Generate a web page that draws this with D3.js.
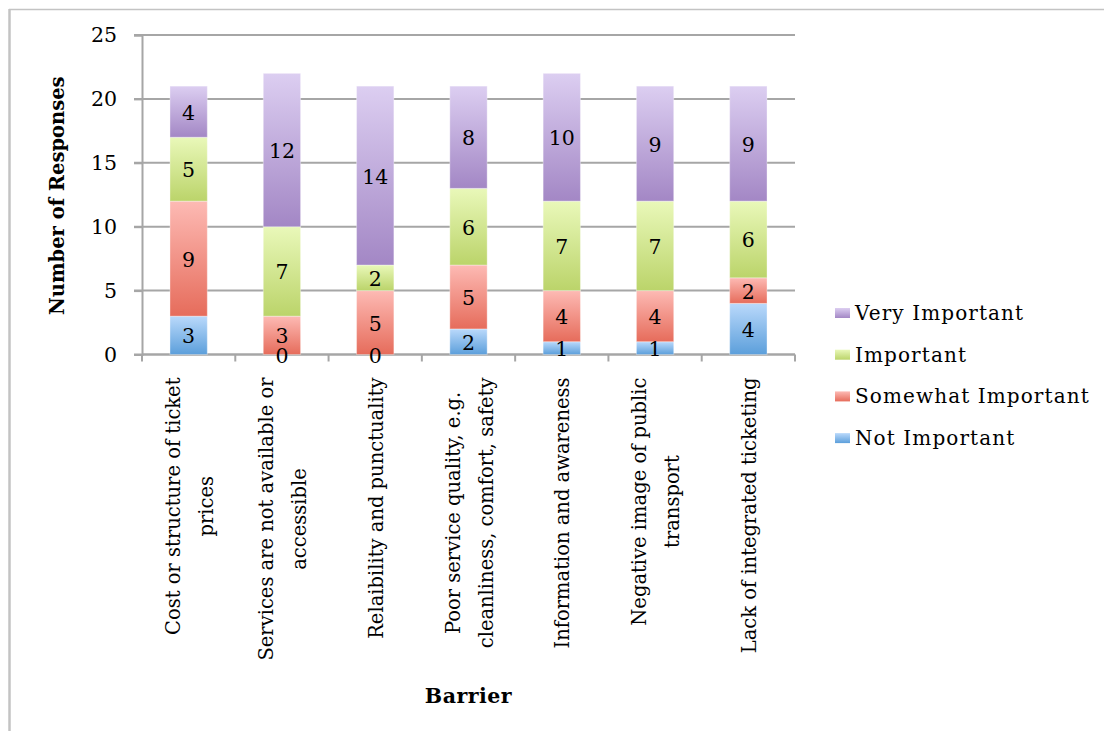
<!DOCTYPE html>
<html>
<head>
<meta charset="utf-8">
<script src="https://cdn.jsdelivr.net/npm/d3@7"></script>
<style>
  html, body { margin: 0; padding: 0; background: #fff; }
  svg { display: block; }
  text { font-family: "DejaVu Serif", "Liberation Serif", serif; fill: #000; }
</style>
</head>
<body>
<svg id="chart" width="1104" height="731"></svg>
<script>
// Survey responses per barrier, split by importance rating
const categories = [
  ["Cost or structure of ticket", "prices"],
  ["Services are not available or", "accessible"],
  ["Relaibility and punctuality"],
  ["Poor service quality, e.g.", "cleanliness, comfort, safety"],
  ["Information and awareness"],
  ["Negative image of public", "transport"],
  ["Lack of integrated ticketing"]
];
const seriesNames = ["Not Important", "Somewhat Important", "Important", "Very Important"];
const notImportant      = [3, 0, 0, 2, 1, 1, 4];
const somewhatImportant = [9, 3, 5, 5, 4, 4, 2];
const important         = [5, 7, 2, 6, 7, 7, 6];
const veryImportant     = [4, 12, 14, 8, 10, 9, 9];
const yTicks = [0, 5, 10, 15, 20, 25];

// light (top) / dark (bottom) shades for each series
const shades = [
  ["#bad9fb", "#5c9fdb"],
  ["#fdbab4", "#e66c5b"],
  ["#e9f8b9", "#bbd46a"],
  ["#dccef1", "#a387c5"]
];

const svg = d3.select("#chart");
const margin = { left: 142, right: 309, top: 35, bottom: 376.5 };
const W = 1104, H = 731;
const plotW = W - margin.left - margin.right;
const plotH = H - margin.top - margin.bottom;

// frame around the chart area
svg.append("line").attr("x1", 9).attr("x2", W).attr("y1", 9.5).attr("y2", 9.5)
  .attr("stroke", "#c3c3c3").attr("stroke-width", 1.5);
svg.append("line").attr("x1", 9.5).attr("x2", 9.5).attr("y1", 9).attr("y2", H)
  .attr("stroke", "#c3c3c3").attr("stroke-width", 2.5);

const defs = svg.append("defs");
shades.forEach((s, i) => {
  const g = defs.append("linearGradient").attr("id", "grad" + i)
    .attr("x1", 0).attr("y1", 0).attr("x2", 0).attr("y2", 1);
  g.append("stop").attr("offset", "0%").attr("stop-color", s[0]);
  g.append("stop").attr("offset", "100%").attr("stop-color", s[1]);
});

const idx = d3.range(categories.length);
const x = d3.scaleBand().domain(idx).range([0, plotW]).paddingInner(0.6).paddingOuter(0.3);
const y = d3.scaleLinear().domain([0, 25]).range([plotH, 0]);

const g = svg.append("g").attr("transform", `translate(${margin.left},${margin.top})`);

// horizontal gridlines
g.append("g").selectAll("line").data(yTicks).join("line")
  .attr("x1", -8).attr("x2", plotW)
  .attr("y1", d => y(d)).attr("y2", d => y(d))
  .attr("stroke", "#a6a6a6").attr("stroke-width", 2);

// y axis
const yAxis = g.append("g").call(d3.axisLeft(y).tickValues(yTicks).tickSize(8).tickPadding(17));
yAxis.select(".domain").attr("stroke", "#a6a6a6").attr("stroke-width", 2);
yAxis.selectAll(".tick line").attr("stroke", "#a6a6a6").attr("stroke-width", 2);
yAxis.selectAll(".tick text").style("font-family", '"DejaVu Serif", serif').attr("font-size", 20.5).attr("fill", "#000");

// x axis baseline with boundary ticks
const xAxisG = g.append("g").attr("transform", `translate(0,${plotH})`);
xAxisG.append("line").attr("x1", 0).attr("x2", plotW).attr("stroke", "#a6a6a6").attr("stroke-width", 2);
const step = x.step();
xAxisG.selectAll(".bt").data(d3.range(categories.length + 1)).join("line")
  .attr("x1", d => d * step).attr("x2", d => d * step)
  .attr("y1", 0).attr("y2", 7)
  .attr("stroke", "#a6a6a6").attr("stroke-width", 2);

// stacked bars
const rows = idx.map(i => ({
  i,
  s0: notImportant[i], s1: somewhatImportant[i], s2: important[i], s3: veryImportant[i]
}));
const stack = d3.stack().keys(["s0", "s1", "s2", "s3"]);
const layers = stack(rows);

layers.forEach((layer, li) => {
  g.append("g").selectAll("rect").data(layer).join("rect")
    .attr("x", d => x(d.data.i))
    .attr("width", x.bandwidth())
    .attr("y", d => y(d[1]))
    .attr("height", d => y(d[0]) - y(d[1]))
    .attr("fill", `url(#grad${li})`)
    .attr("stroke", "rgba(255,255,255,0.35)").attr("stroke-width", 1);
});

// value labels centred in each segment
layers.forEach((layer) => {
  g.append("g").selectAll("text").data(layer).join("text")
    .attr("x", d => x(d.data.i) + x.bandwidth() / 2)
    .attr("y", d => y((d[0] + d[1]) / 2) + 1)
    .attr("text-anchor", "middle")
    .attr("dominant-baseline", "central")
    .attr("font-size", 20.5)
    .text(d => d[1] - d[0]);
});

// category labels, rotated, hanging below the axis
const labelTop = plotH + 23;
const lineGap = 33;
idx.forEach(i => {
  const lines = categories[i];
  const lg = g.append("g");
  const t = lg.append("text").attr("text-anchor", "middle").attr("font-size", 19.5);
  lines.forEach((ln, k) => {
    t.append("tspan").attr("x", 0)
      .attr("y", (k - (lines.length - 1) / 2) * lineGap + 1)
      .attr("dominant-baseline", "central")
      .text(ln);
  });
  const maxLen = d3.max(t.selectAll("tspan").nodes(), n => n.getComputedTextLength());
  lg.attr("transform", `translate(${x(i) + x.bandwidth() / 2},${labelTop + maxLen / 2}) rotate(-90)`);
});

// axis titles
g.append("text")
  .attr("transform", `translate(${-85},${plotH / 2 + 1}) rotate(-90)`)
  .attr("text-anchor", "middle").attr("dominant-baseline", "central")
  .attr("font-size", 19.5).attr("font-weight", "bold")
  .text("Number of Responses");

g.append("text")
  .attr("x", plotW / 2).attr("y", plotH + 341)
  .attr("text-anchor", "middle").attr("dominant-baseline", "central")
  .attr("font-size", 20.5).attr("font-weight", "bold").attr("letter-spacing", 0.5)
  .text("Barrier");

// legend, top entry is the top of the stack
const legend = svg.append("g").attr("transform", "translate(835,306)");
const legendOrder = [3, 2, 1, 0];
legendOrder.forEach((si, k) => {
  const row = legend.append("g").attr("transform", `translate(0,${k * 41.7})`);
  row.append("rect").attr("width", 15).attr("height", 10).attr("y", 2)
    .attr("fill", `url(#grad${si})`);
  row.append("text").attr("x", 20).attr("y", 7).attr("dominant-baseline", "central")
    .attr("font-size", 20).attr("letter-spacing", 1.1).text(seriesNames[si]);
});
</script>
</body>
</html>
